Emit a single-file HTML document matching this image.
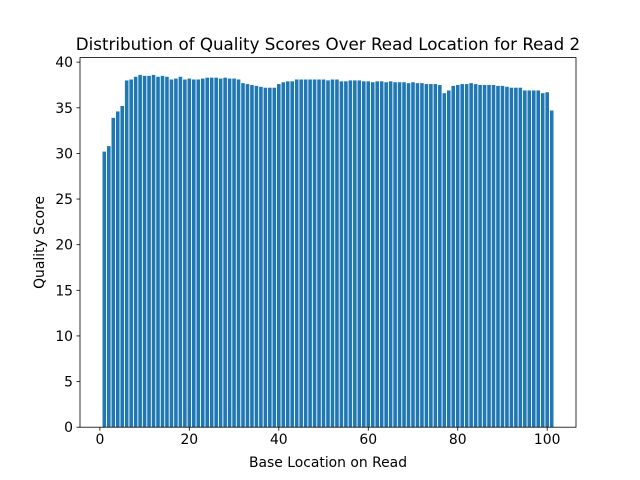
<!DOCTYPE html>
<html><head><meta charset="utf-8"><style>body{margin:0;background:#fff}svg{display:block;font-family:"DejaVu Sans","Liberation Sans",sans-serif}</style></head>
<body>
<svg id="chart" width="640" height="480"></svg>
<script>
const positions = Array.from({length:101},(_,i)=>i+1);
const scores = [30.2,30.8,33.9,34.6,35.2,38.0,38.1,38.4,38.6,38.5,38.5,38.6,38.4,38.5,38.4,38.1,38.2,38.4,38.1,38.2,38.1,38.1,38.2,38.3,38.3,38.3,38.2,38.3,38.2,38.2,38.1,37.7,37.6,37.5,37.4,37.3,37.2,37.2,37.2,37.6,37.8,37.9,37.9,38.1,38.1,38.1,38.1,38.1,38.1,38.1,38.0,
38.1,38.1,37.9,37.9,38.0,38.0,38.0,37.9,37.9,37.8,37.9,37.9,37.8,37.9,37.8,37.8,37.8,37.7,37.8,37.7,37.7,37.6,37.6,37.6,37.5,36.6,36.9,37.4,37.5,37.6,37.6,37.7,37.6,37.5,37.5,37.5,37.5,37.4,37.4,37.3,37.2,37.2,37.2,36.9,36.9,36.9,36.9,36.6,36.7,34.7];
const xTicks = [0,20,40,60,80,100];
const yTicks = [0,5,10,15,20,25,30,35,40];
const L=80,R=576,T=57.6,B=427.2, xmin=-4.44,xmax=106.44,ymin=0,ymax=40.5;
const sx=v=>L+(v-xmin)/(xmax-xmin)*(R-L), sy=v=>B-(v-ymin)/(ymax-ymin)*(B-T);
const svg=document.getElementById('chart'), NS='http://www.w3.org/2000/svg';
function mk(tag,at,txt){const e=document.createElementNS(NS,tag);for(const k in at)e.setAttribute(k,at[k]);if(txt!=null)e.textContent=txt;svg.appendChild(e);return e;}
positions.forEach((p,i)=>{const e=mk('rect',{x:sx(p-0.4),y:sy(scores[i]),width:sx(p+0.4)-sx(p-0.4),height:sy(0)-sy(scores[i]),fill:'#1f77b4'});

});
const fr=mk('rect',{x:L,y:T,width:R-L,height:B-T,fill:'none',stroke:'#000','stroke-width':0.8});


xTicks.forEach(t=>{const x=sx(t);mk('line',{x1:x,x2:x,y1:B,y2:B+3.5,stroke:'#000','stroke-width':0.8});
const e=mk('text',{x:x,y:B+17,'text-anchor':'middle','font-size':13.9},t);

});
yTicks.forEach(t=>{const y=sy(t);mk('line',{x1:L-3.5,x2:L,y1:y,y2:y,stroke:'#000','stroke-width':0.8});
const e=mk('text',{x:L-7,y:y+5,'text-anchor':'end','font-size':13.9},t);

});
let e=mk('text',{x:(L+R)/2,y:467,'text-anchor':'middle','font-size':13.9},'Base Location on Read');


e=mk('text',{x:44,y:(T+B)/2,'text-anchor':'middle','font-size':13.9,transform:'rotate(-90 44 '+((T+B)/2)+')'},'Quality Score');


e=mk('text',{x:(L+R)/2,y:50,'text-anchor':'middle','font-size':16.7},'Distribution of Quality Scores Over Read Location for Read 2');


</script>
</body></html>
